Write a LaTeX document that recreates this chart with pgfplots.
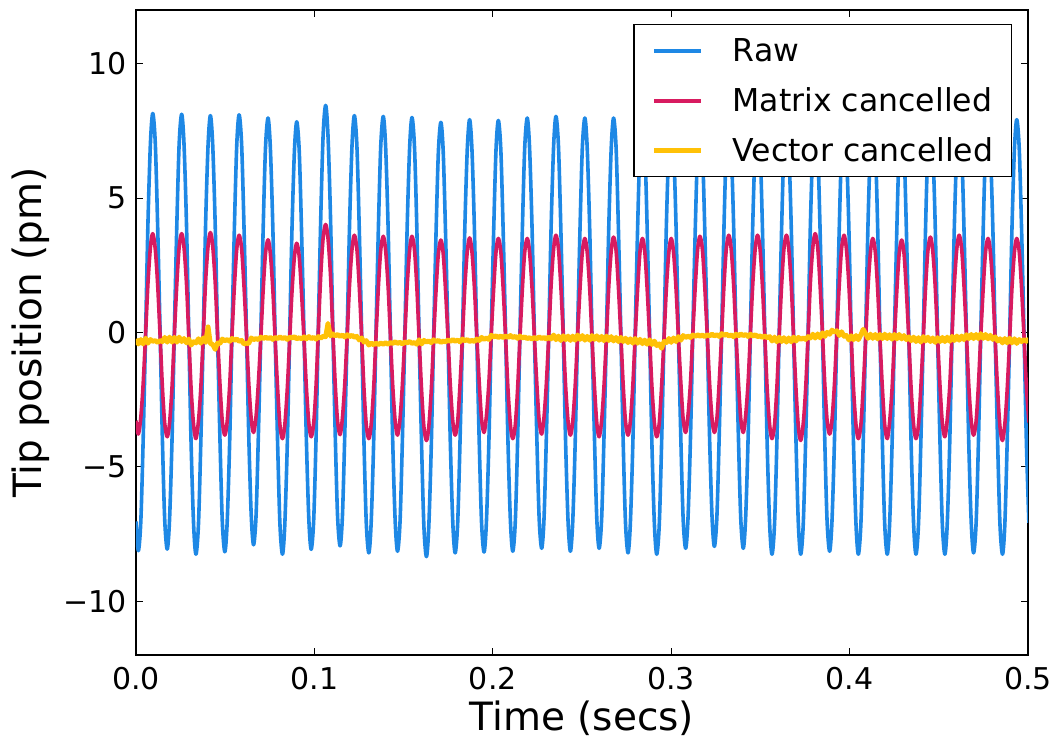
\documentclass[border=0pt]{standalone}
\usepackage{fontspec}
\setmainfont{DejaVu Sans}
\usepackage{pgfplots}
\usepackage{pgfplotstable}
\pgfplotsset{compat=1.18}
\definecolor{rawblue}{HTML}{1E88E5}
\definecolor{matred}{HTML}{D81B60}
\definecolor{vecyellow}{HTML}{FFC107}

\pgfplotstableread{
t raw mat vec
0.0000 -7.03 -3.28 -0.24
0.0013 -8.12 -3.78 -0.43
0.0027 -7.03 -3.16 -0.26
0.0040 -4.04 -1.93 -0.43
0.0054 0.02 -0.05 -0.21
0.0067 4.07 1.83 -0.40
0.0081 7.06 3.18 -0.26
0.0094 8.15 3.68 -0.33
0.0108 7.06 3.10 -0.30
0.0121 4.07 1.83 -0.37
0.0135 0.05 -0.10 -0.30
0.0148 -3.98 -2.03 -0.34
0.0161 -6.97 -3.38 -0.18
0.0175 -8.06 -3.88 -0.36
0.0188 -6.97 -3.38 -0.17
0.0202 -3.98 -2.03 -0.36
0.0215 0.03 -0.10 -0.18
0.0229 4.04 1.83 -0.36
0.0242 7.03 3.18 -0.17
0.0256 8.12 3.68 -0.34
0.0269 7.03 3.18 -0.22
0.0283 4.04 1.83 -0.39
0.0296 -0.07 -0.14 -0.24
0.0309 -4.17 -2.10 -0.47
0.0323 -7.16 -3.45 -0.34
0.0336 -8.25 -3.95 -0.39
0.0350 -7.16 -3.30 -0.23
0.0363 -4.17 -2.10 -0.40
0.0377 -0.09 -0.12 -0.20
0.0390 3.99 1.87 -0.37
0.0404 6.98 3.22 0.21
0.0417 8.07 3.72 -0.42
0.0430 6.98 3.22 -0.44
0.0444 3.99 1.87 -0.63
0.0457 -0.05 -0.05 -0.39
0.0471 -4.08 -1.97 -0.41
0.0484 -7.07 -3.32 -0.24
0.0498 -8.16 -3.82 -0.31
0.0511 -7.07 -3.32 -0.26
0.0525 -4.08 -1.97 -0.33
0.0538 -0.03 -0.10 -0.22
0.0552 4.02 1.77 -0.29
0.0565 7.01 3.12 -0.24
0.0578 8.10 3.62 -0.33
0.0592 7.01 3.12 -0.29
0.0605 4.02 1.77 -0.43
0.0619 0.10 -0.05 -0.40
0.0632 -3.82 -1.87 -0.41
0.0646 -6.81 -3.22 -0.20
0.0659 -7.90 -3.72 -0.27
0.0673 -6.81 -3.12 -0.22
0.0686 -3.82 -1.87 -0.27
0.0700 0.04 -0.14 -0.17
0.0713 3.90 1.60 -0.23
0.0726 6.89 2.95 -0.17
0.0740 7.98 3.45 -0.23
0.0753 6.89 2.95 -0.18
0.0767 3.90 1.60 -0.26
0.0780 -0.14 -0.25 -0.18
0.0794 -4.17 -2.10 -0.23
0.0807 -7.16 -3.45 -0.16
0.0821 -8.25 -3.95 -0.23
0.0834 -7.16 -3.45 -0.18
0.0848 -4.17 -2.10 -0.26
0.0861 -0.21 -0.32 -0.17
0.0874 3.76 1.47 -0.21
0.0888 6.75 2.82 -0.15
0.0901 7.84 3.32 -0.24
0.0915 6.75 2.82 -0.19
0.0928 3.76 1.47 -0.24
0.0942 -0.12 -0.28 -0.16
0.0955 -3.99 -2.03 -0.24
0.0969 -6.98 -3.38 -0.15
0.0982 -8.07 -3.88 -0.23
0.0996 -6.98 -3.38 -0.18
0.1009 -3.99 -2.03 -0.25
0.1022 0.19 0.07 -0.15
0.1036 4.37 2.17 -0.21
0.1049 7.36 3.52 -0.14
0.1063 8.45 4.02 -0.16
0.1076 7.36 3.52 0.34
0.1090 4.37 2.17 -0.13
0.1103 0.26 0.11 -0.05
0.1117 -3.86 -1.95 -0.13
0.1130 -6.85 -3.30 -0.07
0.1144 -7.94 -3.80 -0.15
0.1157 -6.85 -3.18 -0.09
0.1170 -3.86 -1.95 -0.17
0.1184 0.07 -0.09 -0.08
0.1197 3.99 1.77 -0.16
0.1211 6.98 3.12 -0.10
0.1224 8.07 3.62 -0.18
0.1238 6.98 3.12 -0.14
0.1251 3.99 1.77 -0.28
0.1265 -0.07 -0.17 -0.20
0.1278 -4.12 -2.10 -0.36
0.1291 -7.11 -3.45 -0.30
0.1305 -8.20 -3.95 -0.47
0.1318 -7.11 -3.45 -0.39
0.1332 -4.12 -2.10 -0.46
0.1345 -0.08 -0.19 -0.39
0.1359 3.96 1.73 -0.45
0.1372 6.95 3.08 -0.39
0.1386 8.04 3.58 -0.44
0.1399 6.95 3.08 -0.38
0.1413 3.96 1.73 -0.44
0.1426 -0.05 -0.12 -0.37
0.1439 -4.06 -1.97 -0.41
0.1453 -7.05 -3.32 -0.34
0.1466 -8.14 -3.82 -0.41
0.1480 -7.05 -3.22 -0.36
0.1493 -4.06 -1.97 -0.43
0.1507 -0.07 -0.12 -0.35
0.1520 3.92 1.73 -0.39
0.1534 6.91 3.08 -0.33
0.1547 8.00 3.58 -0.41
0.1561 6.91 3.08 -0.37
0.1574 3.92 1.73 -0.44
0.1587 -0.17 -0.22 -0.27
0.1601 -4.26 -2.17 -0.43
0.1614 -7.25 -3.52 -0.29
0.1628 -8.34 -4.02 -0.36
0.1641 -7.25 -3.52 -0.31
0.1655 -4.26 -2.17 -0.38
0.1668 -0.26 -0.29 -0.27
0.1682 3.74 1.59 -0.34
0.1695 6.73 2.94 -0.29
0.1709 7.82 3.44 -0.37
0.1722 6.73 2.94 -0.32
0.1735 3.74 1.59 -0.35
0.1749 -0.19 -0.19 -0.27
0.1762 -4.12 -1.97 -0.34
0.1776 -7.11 -3.32 -0.26
0.1789 -8.20 -3.82 -0.33
0.1803 -7.11 -3.32 -0.28
0.1816 -4.12 -1.97 -0.35
0.1830 -0.14 -0.15 -0.24
0.1843 3.84 1.67 -0.31
0.1857 6.83 3.02 -0.26
0.1870 7.92 3.52 -0.34
0.1883 6.83 3.02 -0.29
0.1897 3.84 1.67 -0.34
0.1910 -0.13 -0.10 -0.24
0.1924 -4.09 -1.87 -0.30
0.1937 -7.08 -3.22 -0.18
0.1951 -8.17 -3.72 -0.26
0.1964 -7.08 -3.12 -0.20
0.1978 -4.09 -1.87 -0.26
0.1991 -0.14 -0.11 -0.10
0.2005 3.81 1.65 -0.17
0.2018 6.80 3.00 -0.12
0.2031 7.89 3.50 -0.19
0.2045 6.80 3.00 -0.13
0.2058 3.81 1.65 -0.19
0.2072 -0.13 -0.23 -0.12
0.2085 -4.06 -2.10 -0.19
0.2099 -7.05 -3.45 -0.11
0.2112 -8.14 -3.95 -0.19
0.2126 -7.05 -3.45 -0.14
0.2139 -4.06 -2.10 -0.22
0.2152 -0.08 -0.23 -0.13
0.2166 3.90 1.65 -0.21
0.2179 6.89 3.00 -0.16
0.2193 7.98 3.50 -0.23
0.2206 6.89 3.00 -0.19
0.2220 3.90 1.65 -0.25
0.2233 -0.03 -0.14 -0.18
0.2247 -3.95 -1.93 -0.24
0.2260 -6.94 -3.28 -0.16
0.2274 -8.03 -3.78 -0.23
0.2287 -6.94 -3.16 -0.18
0.2300 -3.95 -1.93 -0.25
0.2314 0.01 -0.08 -0.17
0.2327 3.96 1.77 -0.24
0.2341 6.95 3.12 -0.09
0.2354 8.04 3.62 -0.27
0.2368 6.95 3.12 -0.13
0.2381 3.96 1.77 -0.30
0.2395 -0.05 -0.10 -0.12
0.2408 -4.06 -1.97 -0.27
0.2422 -7.05 -3.32 -0.13
0.2435 -8.14 -3.82 -0.30
0.2448 -7.05 -3.32 -0.13
0.2462 -4.06 -1.97 -0.29
0.2475 -0.08 -0.16 -0.09
0.2489 3.90 1.65 -0.26
0.2502 6.89 3.00 -0.11
0.2516 7.98 3.50 -0.29
0.2529 6.89 3.00 -0.14
0.2543 3.90 1.65 -0.29
0.2556 -0.03 -0.19 -0.11
0.2570 -3.95 -2.03 -0.26
0.2583 -6.94 -3.38 -0.12
0.2596 -8.03 -3.88 -0.29
0.2610 -6.94 -3.28 -0.14
0.2623 -3.95 -2.03 -0.31
0.2637 -0.03 -0.17 -0.13
0.2650 3.90 1.70 -0.30
0.2664 6.89 3.05 -0.15
0.2677 7.98 3.55 -0.32
0.2691 6.89 3.05 -0.18
0.2704 3.90 1.70 -0.34
0.2718 -0.11 -0.14 -0.18
0.2731 -4.12 -1.97 -0.34
0.2744 -7.11 -3.32 -0.21
0.2758 -8.20 -3.82 -0.38
0.2771 -7.11 -3.32 -0.23
0.2785 -4.12 -1.97 -0.40
0.2798 -0.09 -0.16 -0.22
0.2812 3.95 1.65 -0.40
0.2825 6.94 3.00 -0.25
0.2839 8.03 3.50 -0.42
0.2852 6.94 3.00 -0.28
0.2865 3.95 1.65 -0.44
0.2879 -0.11 -0.19 -0.27
0.2892 -4.17 -2.03 -0.45
0.2906 -7.16 -3.38 -0.32
0.2919 -8.25 -3.88 -0.49
0.2933 -7.16 -3.38 -0.42
0.2946 -4.17 -2.03 -0.59
0.2960 -0.09 -0.19 -0.33
0.2973 4.00 1.65 -0.38
0.2987 6.99 3.00 -0.22
0.3000 8.08 3.50 -0.37
0.3013 6.99 3.00 -0.20
0.3027 4.00 1.65 -0.34
0.3040 0.03 -0.11 -0.15
0.3054 -3.95 -1.87 -0.29
0.3067 -6.94 -3.22 -0.11
0.3081 -8.03 -3.72 -0.19
0.3094 -6.94 -3.10 -0.13
0.3108 -3.95 -1.87 -0.19
0.3121 -0.04 -0.07 -0.09
0.3135 3.87 1.73 -0.15
0.3148 6.86 3.08 -0.08
0.3161 7.95 3.58 -0.14
0.3175 6.86 3.08 -0.09
0.3188 3.87 1.73 -0.16
0.3202 -0.01 -0.07 -0.08
0.3215 -3.88 -1.87 -0.13
0.3229 -6.87 -3.22 -0.06
0.3242 -7.96 -3.72 -0.13
0.3256 -6.87 -3.22 -0.08
0.3269 -3.88 -1.87 -0.15
0.3283 0.04 -0.05 -0.04
0.3296 3.96 1.77 -0.11
0.3309 6.95 3.12 -0.06
0.3323 8.04 3.62 -0.13
0.3336 6.95 3.12 -0.09
0.3350 3.96 1.77 -0.16
0.3363 0.01 -0.05 -0.06
0.3377 -3.95 -1.87 -0.13
0.3390 -6.94 -3.22 -0.05
0.3404 -8.03 -3.72 -0.12
0.3417 -6.94 -3.12 -0.07
0.3431 -3.95 -1.87 -0.15
0.3444 0.03 -0.05 -0.06
0.3457 4.00 1.77 -0.14
0.3471 6.99 3.12 -0.08
0.3484 8.08 3.62 -0.16
0.3498 6.99 3.12 -0.12
0.3511 4.00 1.77 -0.19
0.3525 -0.09 -0.17 -0.12
0.3538 -4.17 -2.10 -0.20
0.3552 -7.16 -3.45 -0.15
0.3565 -8.25 -3.95 -0.32
0.3579 -7.16 -3.45 -0.17
0.3592 -4.17 -2.10 -0.35
0.3605 -0.14 -0.17 -0.17
0.3619 3.90 1.77 -0.34
0.3632 6.89 3.12 -0.19
0.3646 7.98 3.62 -0.36
0.3659 6.89 3.12 -0.20
0.3673 3.90 1.77 -0.35
0.3686 -0.14 -0.20 -0.17
0.3700 -4.17 -2.17 -0.32
0.3713 -7.16 -3.52 -0.18
0.3726 -8.25 -4.02 -0.26
0.3740 -7.16 -3.40 -0.20
0.3753 -4.17 -2.17 -0.26
0.3767 -0.11 -0.17 -0.15
0.3780 3.96 1.83 -0.21
0.3794 6.95 3.18 -0.06
0.3807 8.04 3.68 -0.21
0.3821 6.95 3.18 -0.05
0.3834 3.96 1.83 -0.20
0.3848 -0.05 -0.05 -0.01
0.3861 -4.06 -1.93 -0.15
0.3874 -7.05 -3.28 0.01
0.3888 -8.14 -3.78 -0.07
0.3901 -7.05 -3.28 0.09
0.3915 -4.06 -1.93 0.01
0.3928 -0.10 -0.08 0.07
0.3942 3.86 1.77 -0.11
0.3955 6.85 3.12 0.03
0.3969 7.94 3.62 -0.14
0.3982 6.85 3.12 -0.11
0.3996 3.86 1.77 -0.28
0.4009 -0.16 -0.17 -0.12
0.4022 -4.17 -2.10 -0.27
0.4036 -7.16 -3.45 -0.11
0.4049 -8.25 -3.95 -0.27
0.4063 -7.16 -3.45 -0.09
0.4076 -4.17 -2.10 0.12
0.4090 -0.09 -0.23 -0.05
0.4103 4.00 1.65 -0.22
0.4117 6.99 3.00 -0.06
0.4130 8.08 3.50 -0.22
0.4144 6.99 3.00 -0.07
0.4157 4.00 1.65 -0.24
0.4170 -0.09 -0.23 -0.07
0.4184 -4.17 -2.10 -0.23
0.4197 -7.16 -3.45 -0.06
0.4211 -8.25 -3.95 -0.23
0.4224 -7.16 -3.35 -0.08
0.4238 -4.17 -2.10 -0.25
0.4251 -0.14 -0.26 -0.07
0.4265 3.90 1.59 -0.24
0.4278 6.89 2.94 -0.07
0.4292 7.98 3.44 -0.24
0.4305 6.89 2.94 -0.11
0.4318 3.90 1.59 -0.27
0.4332 -0.14 -0.26 -0.16
0.4345 -4.17 -2.10 -0.31
0.4359 -7.16 -3.45 -0.17
0.4372 -8.25 -3.95 -0.34
0.4386 -7.16 -3.45 -0.19
0.4399 -4.17 -2.10 -0.36
0.4413 -0.11 -0.20 -0.15
0.4426 3.96 1.70 -0.32
0.4439 6.95 3.05 -0.17
0.4453 8.04 3.55 -0.34
0.4466 6.95 3.05 -0.20
0.4480 3.96 1.70 -0.37
0.4493 -0.11 -0.17 -0.19
0.4507 -4.17 -2.03 -0.34
0.4520 -7.16 -3.38 -0.18
0.4534 -8.25 -3.88 -0.34
0.4547 -7.16 -3.26 -0.17
0.4561 -4.17 -2.03 -0.33
0.4574 -0.14 -0.13 -0.14
0.4587 3.90 1.77 -0.30
0.4601 6.89 3.12 -0.13
0.4614 7.98 3.62 -0.29
0.4628 6.89 3.12 -0.13
0.4641 3.90 1.77 -0.27
0.4655 -0.11 -0.10 -0.08
0.4668 -4.12 -1.97 -0.23
0.4682 -7.11 -3.32 -0.07
0.4695 -8.20 -3.82 -0.23
0.4709 -7.11 -3.32 -0.07
0.4722 -4.12 -1.97 -0.23
0.4735 -0.13 -0.16 -0.04
0.4749 3.86 1.65 -0.22
0.4762 6.85 3.00 -0.07
0.4776 7.94 3.50 -0.24
0.4789 6.85 3.00 -0.10
0.4803 3.86 1.65 -0.26
0.4816 -0.16 -0.26 -0.16
0.4830 -4.17 -2.17 -0.32
0.4843 -7.16 -3.52 -0.23
0.4857 -8.25 -4.02 -0.39
0.4870 -7.16 -3.42 -0.22
0.4883 -4.17 -2.17 -0.39
0.4897 -0.17 -0.26 -0.21
0.4910 3.84 1.65 -0.39
0.4924 6.83 3.00 -0.23
0.4937 7.92 3.50 -0.41
0.4951 6.83 3.00 -0.26
0.4964 3.84 1.65 -0.34
0.4978 -0.13 -0.18 -0.26
0.4991 -4.09 -2.00 -0.33
0.5005 -7.08 -3.35 -0.24
}\datatable

\begin{document}
\begin{tikzpicture}
\begin{axis}[
  name=ax,
  scale only axis, width=446pt, height=322.5pt,
  xmin=0, xmax=0.5, ymin=-12, ymax=12,
  xtick={0,0.1,0.2,0.3,0.4,0.5},
  xticklabels={0.0,0.1,0.2,0.3,0.4,0.5},
  ytick={-10,-5,0,5,10},
  yticklabels={−10,−5,0,5,10},
  tick align=inside,
  xtick pos=both, ytick pos=both,
  xticklabel pos=lower, yticklabel pos=left,
  major tick length=3.5pt,
  every tick/.style={black, line width=0.5pt},
  axis line style={black, line width=0.6pt},
  tick label style={font=\fontsize{15}{18}\selectfont},
  xticklabel style={anchor=base, yshift=-17.5pt},
  yticklabel style={xshift=-1pt},
  every axis x label/.style={at={(axis description cs:0.5,-0.1163)}, anchor=base, font=\fontsize{19.5}{23}\selectfont},
  every axis y label/.style={at={(axis description cs:-0.1059,0.5)}, rotate=90, anchor=base, font=\fontsize{19.5}{23}\selectfont},
  xlabel={Time (secs)},
  ylabel={Tip position (pm)},
  legend cell align=left,
  legend style={
    at={(0.982,0.978)}, anchor=north east,
    draw=black, line width=0.6pt, fill=white,
    font=\fontsize{15.75}{18}\selectfont,
    inner xsep=7pt, inner ysep=3.5pt,
    nodes={inner sep=2pt, text height=13pt, text depth=2pt},
    row sep=6pt, column sep=12.5pt,
  },
  legend image code/.code={\path (0pt,0pt); \draw[#1] (2pt,0pt) -- (25.5pt,0pt);},
]
\addplot[rawblue, line width=1.8pt, smooth, line join=round] table[x=t, y=raw] {\datatable};
\addlegendentry{Raw}
\addplot[matred, line width=1.8pt, smooth, line join=round] table[x=t, y=mat] {\datatable};
\addlegendentry{Matrix cancelled}
\addplot[vecyellow, line width=2.4pt, line join=round] table[x=t, y=vec] {\datatable};
\addlegendentry{Vector cancelled}
\end{axis}
\pgfresetboundingbox
\path[use as bounding box] ([shift={(-68pt,-41.5pt)}]ax.south west) rectangle ([shift={(13.5pt,5pt)}]ax.north east);
\end{tikzpicture}
\end{document}
